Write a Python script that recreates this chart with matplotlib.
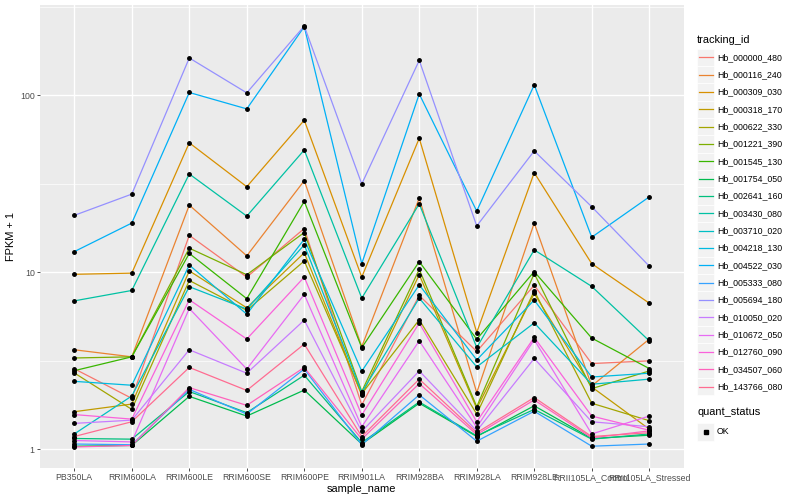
import numpy as np
import matplotlib
matplotlib.use('Agg')
import matplotlib.pyplot as plt
from matplotlib.ticker import FixedLocator, FuncFormatter
from matplotlib.patches import Rectangle

plt.rcParams['font.family'] = ['Liberation Sans', 'DejaVu Sans']

# Proben (x-Achse)
samples = ['PB350LA', 'RRIM600LA', 'RRIM600LE', 'RRIM600SE', 'RRIM600PE', 'RRIM901LA',
           'RRIM928BA', 'RRIM928LA', 'RRIM928LE', 'RRII105LA_Control', 'RRII105LA_Stressed']

tracking_ids = ['Hb_000000_480', 'Hb_000116_240', 'Hb_000309_030', 'Hb_000318_170',
                'Hb_000622_330', 'Hb_001221_390', 'Hb_001545_130', 'Hb_001754_050',
                'Hb_002641_160', 'Hb_003430_080', 'Hb_003710_020', 'Hb_004218_130',
                'Hb_004522_030', 'Hb_005333_080', 'Hb_005694_180', 'Hb_010050_020',
                'Hb_010672_050', 'Hb_012760_090', 'Hb_034507_060', 'Hb_143766_080']

# FPKM + 1 je Gen
hb_000000_480 = [2.85, 1.94, 16.2, 9.4, 17.7, 1.78, 7.4, 3.57, 8.45, 3.05, 3.16]
hb_000116_240 = [3.65, 3.33, 24.0, 12.4, 33.0, 3.8, 26.3, 2.09, 19.0, 2.28, 4.19]
hb_000309_030 = [9.75, 9.9, 54.0, 30.5, 72.5, 9.4, 57.3, 4.57, 36.6, 11.2, 6.7]
hb_000318_170 = [1.63, 1.8, 10.2, 6.3, 12.9, 2.02, 9.7, 1.70, 7.6, 2.25, 1.3]
hb_000622_330 = [2.7, 1.68, 9.0, 6.1, 11.6, 2.06, 5.39, 1.58, 7.86, 1.82, 1.45]
hb_001221_390 = [3.28, 3.33, 13.7, 9.7, 16.8, 2.12, 10.4, 1.74, 9.85, 2.2, 2.77]
hb_001545_130 = [2.78, 3.33, 12.8, 7.1, 25.2, 3.75, 11.5, 4.19, 10.1, 4.25, 2.86]
hb_001754_050 = [1.04, 1.05, 1.99, 1.54, 2.16, 1.07, 1.82, 1.18, 1.76, 1.15, 1.2]
hb_002641_160 = [1.15, 1.14, 2.12, 1.61, 2.62, 1.09, 1.85, 1.19, 1.68, 1.14, 1.22]
hb_003430_080 = [6.9, 7.9, 36.0, 20.8, 49.2, 7.15, 24.4, 3.76, 13.4, 8.33, 4.1]
hb_003710_020 = [1.22, 2.0, 8.3, 6.2, 14.3, 2.1, 7.15, 2.92, 5.18, 2.33, 2.49]
hb_004218_130 = [2.42, 2.3, 11.0, 5.8, 15.4, 2.76, 8.5, 3.2, 6.97, 2.56, 2.69]
hb_004522_030 = [13.1, 19.0, 104.0, 84.0, 245.0, 11.2, 102.0, 22.2, 114.8, 15.8, 26.7]
hb_005333_080 = [1.07, 1.06, 2.18, 1.58, 2.84, 1.06, 2.03, 1.11, 1.64, 1.04, 1.07]
hb_005694_180 = [21.0, 27.7, 163.0, 103.5, 247.0, 31.6, 158.0, 18.3, 48.6, 23.5, 10.85]
hb_010050_020 = [1.40, 1.46, 3.65, 2.69, 5.37, 1.26, 2.77, 1.27, 3.26, 1.43, 1.34]
hb_010672_050 = [1.12, 1.10, 6.25, 2.84, 7.5, 1.34, 4.1, 1.33, 4.16, 1.22, 1.54]
hb_012760_090 = [1.57, 1.48, 7.0, 4.2, 9.4, 1.56, 5.17, 1.43, 4.29, 1.54, 1.28]
hb_034507_060 = [1.03, 1.05, 2.23, 1.77, 2.9, 1.14, 2.35, 1.21, 1.9, 1.16, 1.27]
hb_143766_080 = [1.18, 1.43, 2.9, 2.15, 3.93, 1.18, 2.49, 1.24, 1.96, 1.18, 1.24]

series = [hb_000000_480, hb_000116_240, hb_000309_030, hb_000318_170, hb_000622_330,
          hb_001221_390, hb_001545_130, hb_001754_050, hb_002641_160, hb_003430_080,
          hb_003710_020, hb_004218_130, hb_004522_030, hb_005333_080, hb_005694_180,
          hb_010050_020, hb_010672_050, hb_012760_090, hb_034507_060, hb_143766_080]

# ggplot hue palette, 20 levels
colors = ['#F8766D', '#EA8331', '#D89000', '#C09B00', '#A3A500', '#7CAE00', '#39B600',
          '#00BB4E', '#00BF7D', '#00C1A3', '#00BFC4', '#00BAE0', '#00B0F6', '#35A2FF',
          '#9590FF', '#C77CFF', '#E76BF3', '#FA62DB', '#FF62BC', '#FF6C91']

W, H = 800, 500
fig = plt.figure(figsize=(8, 5), dpi=100)
ax = fig.add_axes([39.8 / W, 1 - 468 / H, (683.7 - 39.8) / W, (468 - 5) / H])
ax.set_facecolor('#EBEBEB')
for s in ax.spines.values():
    s.set_visible(False)

x = np.arange(len(samples))
for vals, col in zip(series, colors):
    ax.plot(x, vals, color=col, lw=0.9, zorder=2)
for vals in series:
    ax.plot(x, vals, 'o', color='black', ms=2.5, zorder=3, linestyle='none')

ax.set_yscale('log')
logs = np.log10(np.concatenate(series))
span = logs.max() - logs.min()
ax.set_ylim(10 ** (logs.min() - 0.05 * span), 10 ** (logs.max() + 0.05 * span))
ax.set_xlim(-0.6, len(samples) - 0.4)

ax.yaxis.set_major_locator(FixedLocator([1, 10, 100]))
ax.yaxis.set_major_formatter(FuncFormatter(lambda v, p: '%g' % v))
ax.yaxis.set_minor_locator(FixedLocator([10 ** 0.5, 10 ** 1.5, 10 ** 2.5]))
ax.set_xticks(x)
ax.set_xticklabels(samples)

ax.grid(True, which='major', color='white', lw=1.0, zorder=0)
ax.grid(True, which='minor', axis='y', color='white', lw=0.5, zorder=0)
ax.set_axisbelow(True)
ax.tick_params(which='major', length=2.2, width=0.6, color='#333333',
               labelsize=6.3, labelcolor='#4D4D4D', pad=1.5)
ax.tick_params(which='minor', length=0)

ax.set_xlabel('sample_name', fontsize=7.9, labelpad=1)
ax.set_ylabel('FPKM + 1', fontsize=7.9, labelpad=3)

# Legende von Hand zeichnen (ggplot-Stil)
lg = fig.add_axes([0, 0, 1, 1])
lg.set_xlim(0, W)
lg.set_ylim(H, 0)
lg.axis('off')
lg.patch.set_alpha(0)

lg.text(697, 40, 'tracking_id', fontsize=7.9, va='center', ha='left')
for i, (name, col) in enumerate(zip(tracking_ids, colors)):
    yc = 57.3 + 17.33 * i
    lg.add_patch(Rectangle((697, yc - 8.66), 17.3, 17.32, facecolor='#F2F2F2',
                           edgecolor='white', lw=0.5))
    lg.plot([698.5, 712.8], [yc, yc], color=col, lw=0.9)
    lg.text(717, yc, name, fontsize=6.3, va='center', ha='left')

lg.text(697, 412, 'quant_status', fontsize=7.9, va='center', ha='left')
lg.add_patch(Rectangle((697, 432 - 8.66), 17.3, 17.32, facecolor='#F2F2F2',
                       edgecolor='white', lw=0.5))
lg.plot([705.6], [432], 's', color='black', ms=2.6)
lg.text(717, 432, 'OK', fontsize=6.3, va='center', ha='left')

fig.savefig('out.png', dpi=100)
